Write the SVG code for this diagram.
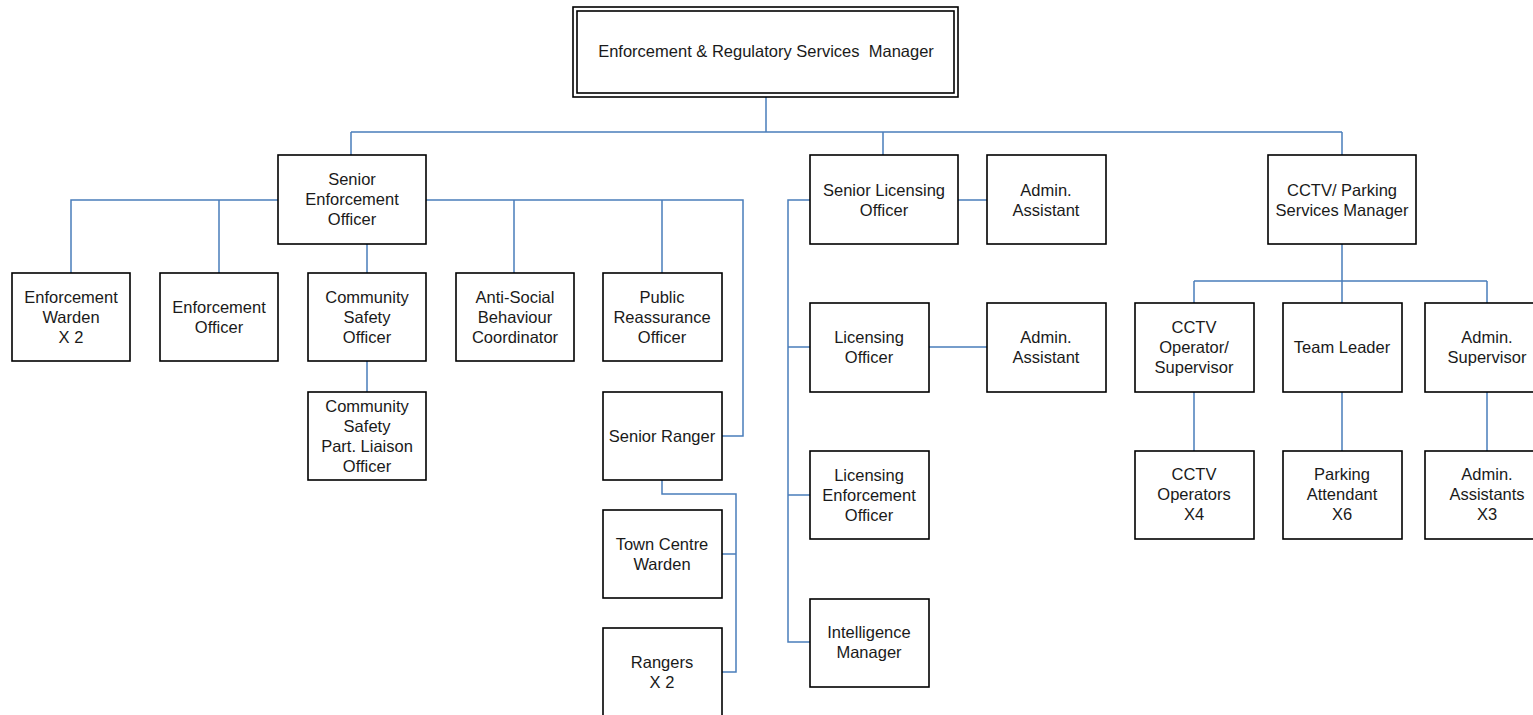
<svg xmlns="http://www.w3.org/2000/svg" width="1533" height="715" viewBox="0 0 1533 715">
<style>
.box{fill:#fff;stroke:#000;stroke-width:1.6}
.t{font-family:"Liberation Sans",Arial,sans-serif;font-size:16.5px;fill:#1a1a1a;text-anchor:middle;white-space:pre}
.c{fill:none;stroke:#4a7ebb;stroke-width:1.5}
</style>
<rect width="1533" height="715" fill="#fff"/>
<g id="connectors">
<path class="c" d="M766,97 V132 M351,132 H1342 M351,132 V155 M883,132 V155 M1342,132 V155"/>
<path class="c" d="M71,273 V200 H278 M219,200 V273 M426,200 H743 V436 H722 M514,200 V273 M662,200 V273 M367,244 V273 M367,361 V392"/>
<path class="c" d="M662,480 V494 H736 V672 H722 M736,554 H722"/>
<path class="c" d="M810,200 H788 V642 H810 M788,347 H810 M788,495 H810 M958,200 H987 M929,347 H987"/>
<path class="c" d="M1342,244 V281 M1194,281 H1487 M1194,281 V303 M1342,281 V303 M1487,281 V303 M1194,392 V451 M1342,392 V451 M1487,392 V451"/>
</g>
<g id="n-manager">
<rect class="box" x="573" y="7" width="385" height="90" stroke-width="1.3"/>
<rect class="box" x="577" y="11" width="377" height="82" stroke-width="1.3"/>
<text class="t" x="766" y="57" xml:space="preserve">Enforcement &amp; Regulatory Services  Manager</text>
</g>
<g id="n-seo"><rect class="box" x="278" y="155" width="148" height="89"/><text class="t" x="352" y="185">Senior</text><text class="t" x="352" y="205">Enforcement</text><text class="t" x="352" y="225">Officer</text></g>
<g id="n-ew"><rect class="box" x="12" y="273" width="118" height="88"/><text class="t" x="71" y="303">Enforcement</text><text class="t" x="71" y="323">Warden</text><text class="t" x="71" y="343">X 2</text></g>
<g id="n-eo"><rect class="box" x="160" y="273" width="118" height="88"/><text class="t" x="219" y="313">Enforcement</text><text class="t" x="219" y="333">Officer</text></g>
<g id="n-cso"><rect class="box" x="308" y="273" width="118" height="88"/><text class="t" x="367" y="303">Community</text><text class="t" x="367" y="323">Safety</text><text class="t" x="367" y="343">Officer</text></g>
<g id="n-asb"><rect class="box" x="456" y="273" width="118" height="88"/><text class="t" x="515" y="303">Anti-Social</text><text class="t" x="515" y="323">Behaviour</text><text class="t" x="515" y="343">Coordinator</text></g>
<g id="n-pro"><rect class="box" x="603" y="273" width="119" height="88"/><text class="t" x="662" y="303">Public</text><text class="t" x="662" y="323">Reassurance</text><text class="t" x="662" y="343">Officer</text></g>
<g id="n-csplo"><rect class="box" x="308" y="392" width="118" height="88"/><text class="t" x="367" y="412">Community</text><text class="t" x="367" y="432">Safety</text><text class="t" x="367" y="452">Part. Liaison</text><text class="t" x="367" y="472">Officer</text></g>
<g id="n-sr"><rect class="box" x="603" y="392" width="119" height="88"/><text class="t" x="662" y="442">Senior Ranger</text></g>
<g id="n-tcw"><rect class="box" x="603" y="510" width="119" height="88"/><text class="t" x="662" y="550">Town Centre</text><text class="t" x="662" y="570">Warden</text></g>
<g id="n-rangers"><rect class="box" x="603" y="628" width="119" height="90"/><text class="t" x="662" y="668">Rangers</text><text class="t" x="662" y="688">X 2</text></g>
<g id="n-slo"><rect class="box" x="810" y="155" width="148" height="89"/><text class="t" x="884" y="196">Senior Licensing</text><text class="t" x="884" y="216">Officer</text></g>
<g id="n-aa1"><rect class="box" x="987" y="155" width="119" height="89"/><text class="t" x="1046" y="196">Admin.</text><text class="t" x="1046" y="216">Assistant</text></g>
<g id="n-lo"><rect class="box" x="810" y="303" width="119" height="89"/><text class="t" x="869" y="343">Licensing</text><text class="t" x="869" y="363">Officer</text></g>
<g id="n-aa2"><rect class="box" x="987" y="303" width="119" height="89"/><text class="t" x="1046" y="343">Admin.</text><text class="t" x="1046" y="363">Assistant</text></g>
<g id="n-leo"><rect class="box" x="810" y="451" width="119" height="88"/><text class="t" x="869" y="481">Licensing</text><text class="t" x="869" y="501">Enforcement</text><text class="t" x="869" y="521">Officer</text></g>
<g id="n-im"><rect class="box" x="810" y="599" width="119" height="88"/><text class="t" x="869" y="638">Intelligence</text><text class="t" x="869" y="658">Manager</text></g>
<g id="n-cctvm"><rect class="box" x="1268" y="155" width="148" height="89"/><text class="t" x="1342" y="196">CCTV/ Parking</text><text class="t" x="1342" y="216">Services Manager</text></g>
<g id="n-cos"><rect class="box" x="1135" y="303" width="119" height="89"/><text class="t" x="1194" y="333">CCTV</text><text class="t" x="1194" y="353">Operator/</text><text class="t" x="1194" y="373">Supervisor</text></g>
<g id="n-tl"><rect class="box" x="1283" y="303" width="119" height="89"/><text class="t" x="1342" y="353">Team Leader</text></g>
<g id="n-as"><rect class="box" x="1425" y="303" width="122" height="89"/><text class="t" x="1487" y="343">Admin.</text><text class="t" x="1487" y="363">Supervisor</text></g>
<g id="n-co"><rect class="box" x="1135" y="451" width="119" height="88"/><text class="t" x="1194" y="480">CCTV</text><text class="t" x="1194" y="500">Operators</text><text class="t" x="1194" y="520">X4</text></g>
<g id="n-pa"><rect class="box" x="1283" y="451" width="119" height="88"/><text class="t" x="1342" y="480">Parking</text><text class="t" x="1342" y="500">Attendant</text><text class="t" x="1342" y="520">X6</text></g>
<g id="n-aas"><rect class="box" x="1425" y="451" width="122" height="88"/><text class="t" x="1487" y="480">Admin.</text><text class="t" x="1487" y="500">Assistants</text><text class="t" x="1487" y="520">X3</text></g>
</svg>
